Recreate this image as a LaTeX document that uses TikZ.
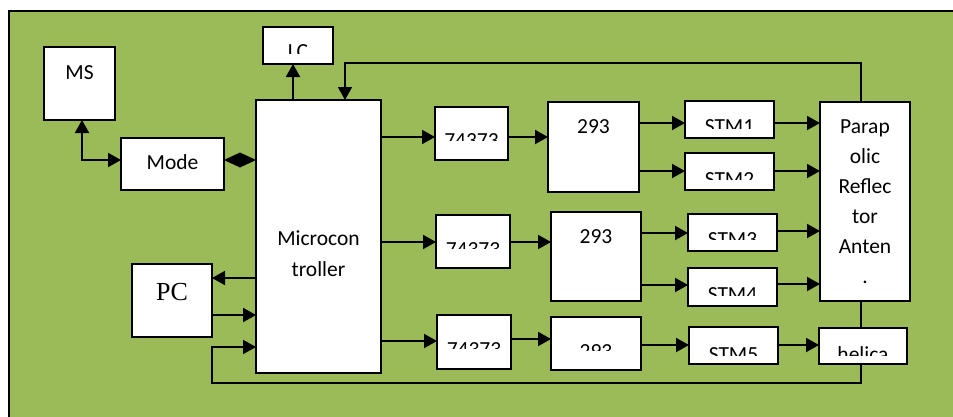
\documentclass[tikz,border=0pt]{standalone}
\usepackage{fontspec}
\setmainfont{Carlito}
\newfontfamily\pcfont{Liberation Serif}
\usetikzlibrary{arrows.meta,calc}
\definecolor{bggreen}{HTML}{9BBB59}
\begin{document}
\begin{tikzpicture}[x=1pt,y=-1pt,
  box/.style={draw=black,line width=2pt,fill=white,inner sep=0pt,outer sep=0pt},
  txt/.style={inner sep=0pt,font=\fontsize{21.5}{25}\selectfont},
  arr/.style={line width=2pt,-{Triangle[length=13pt,width=14pt]}},
  dbl/.style={line width=2pt,{Triangle[length=13pt,width=14pt]}-{Triangle[length=13pt,width=14pt]}},
  fb/.style={line width=1.6pt},
  fbarr/.style={line width=1.6pt,-{Triangle[length=13pt,width=14pt]}}]
% canvas
\fill[white] (0,0) rectangle (953,416);
\useasboundingbox (0,0) rectangle (953,416);
\filldraw[fill=bggreen,draw=black,line width=1.5pt] (9,11) rectangle (965,430);
% boxes: x1,y1,x2,y2
\newcommand{\mybox}[5]{\node[box,minimum width={#4-#2},minimum height={#5-#3}] (#1) at ({(#2+#4)/2},{(#3+#5)/2}) {};}
\mybox{ms}{44}{47}{115}{120}
\mybox{lc}{263}{27}{333}{64}
\mybox{mode}{121}{138}{224}{190}
\mybox{mc}{256}{100}{381}{373}
\mybox{pc}{132}{264}{212}{337}
\mybox{ta}{435}{107}{508}{160}
\mybox{ha}{548}{102}{639}{192}
\mybox{sa}{685}{101}{774}{138}
\mybox{sb}{685}{153}{774}{190}
\mybox{ant}{820}{102}{910}{301}
\mybox{tb}{436}{215}{510}{268}
\mybox{hb}{551}{212}{641}{301}
\mybox{sc}{688}{214}{777}{251}
\mybox{sd}{688}{268}{777}{306}
\mybox{tc}{437}{315}{511}{369}
\mybox{hc}{551}{317}{641}{370}
\mybox{se}{689}{327}{778}{364}
\mybox{hel}{819}{328}{907}{364}
% plain texts
\node[txt,anchor=base] (msT) at (ms.center |- 0,79) {MS};
\node[txt,anchor=base] (modeT) at (mode.center |- 0,169) {Mode};
\node[txt,anchor=base] (mcT1) at (mc.center |- 0,245) {Microcon};
\node[txt,anchor=base] (mcT2) at (mc.center |- 0,276) {troller};
\node[inner sep=0pt,anchor=base,font=\pcfont\fontsize{26}{30}\selectfont] (pcT) at (pc.center |- 0,300) {PC};
\node[txt,anchor=base] (haT) at (ha.center |- 0,133) {293};
\node[txt,anchor=base] (hbT) at (hb.center |- 0,243) {293};
\node[txt,anchor=base] (antT1) at (ant.center |- 0,133) {Parap};
\node[txt,anchor=base] (antT2) at (ant.center |- 0,163) {olic};
\node[txt,anchor=base] (antT3) at (ant.center |- 0,193) {Reflec};
\node[txt,anchor=base] (antT4) at (ant.center |- 0,223) {tor};
\node[txt,anchor=base] (antT5) at (ant.center |- 0,253) {Anten};
\node[txt,anchor=base] (antT6) at (ant.center |- 0,283) {.};
% clipped texts: name, box, baseline, clip line, text
\newcommand{\cliptxt}[5]{\begin{scope}\clip (#2.north west) rectangle (#2.east |- 0,#4);
  \node[txt,anchor=base] (#1) at (#2.center |- 0,#3) {#5};\end{scope}}
\cliptxt{lcT}{lc}{58}{53}{LC}
\cliptxt{taT}{ta}{147}{140}{74373}
\cliptxt{tbT}{tb}{256}{248}{74373}
\cliptxt{tcT}{tc}{356}{348}{74373}
\cliptxt{hcT}{hc}{358}{350}{293}
\cliptxt{saT}{sa}{133}{128}{STM1}
\cliptxt{sbT}{sb}{186}{179}{STM2}
\cliptxt{scT}{sc}{246}{239}{STM3}
\cliptxt{sdT}{sd}{301}{295}{STM4}
\cliptxt{seT}{se}{361}{355}{STM5}
\cliptxt{helT}{hel}{361}{355}{helica}
% connectors
\draw[dbl] (ms.south -| 82,0) |- (mode.west |- 0,160);
\coordinate (dmid) at ($(mode.east |- 0,160)!0.5!(mc.west |- 0,160)$);
\fill (mode.east |- 0,160) -- ([yshift=7.5pt]dmid) -- (mc.west |- 0,160) -- ([yshift=-7.5pt]dmid) -- cycle;
\draw[arr] (mc.north -| 293,0) -- (lc.south -| 293,0);
\draw[fbarr] (ant.north -| 861,0) |- (345,63) -- (mc.north -| 345,0);
\draw[arr] (mc.west |- 0,278) -- (pc.east |- 0,278);
\draw[arr] (pc.east |- 0,315) -- (mc.west |- 0,315);
\draw[fbarr] (hel.south -| 861,0) |- (pc.east |- 0,383) |- (mc.west |- 0,347);
\draw[fb] (ant.south -| 861,0) -- (hel.north -| 861,0);
% row 1
\draw[arr] (mc.east |- 0,137) -- (ta.west |- 0,137);
\draw[arr] (ta.east |- 0,137) -- (ha.west |- 0,137);
\draw[arr] (ha.east |- 0,123) -- (sa.west |- 0,123);
\draw[arr] (ha.east |- 0,171) -- (sb.west |- 0,171);
\draw[arr] (sa.east |- 0,123) -- (ant.west |- 0,123);
\draw[arr] (sb.east |- 0,171) -- (ant.west |- 0,171);
% row 2
\draw[arr] (mc.east |- 0,242) -- (tb.west |- 0,242);
\draw[arr] (tb.east |- 0,242) -- (hb.west |- 0,242);
\draw[arr] (hb.east |- 0,233) -- (sc.west |- 0,233);
\draw[arr] (hb.east |- 0,285) -- (sd.west |- 0,285);
\draw[arr] (sc.east |- 0,231) -- (ant.west |- 0,231);
\draw[arr] (sd.east |- 0,284) -- (ant.west |- 0,284);
% row 3
\draw[arr] (mc.east |- 0,341) -- (tc.west |- 0,341);
\draw[arr] (tc.east |- 0,339) -- (hc.west |- 0,339);
\draw[arr] (hc.east |- 0,345) -- (se.west |- 0,345);
\draw[arr] (se.east |- 0,345) -- (hel.west |- 0,345);
\end{tikzpicture}
\end{document}
